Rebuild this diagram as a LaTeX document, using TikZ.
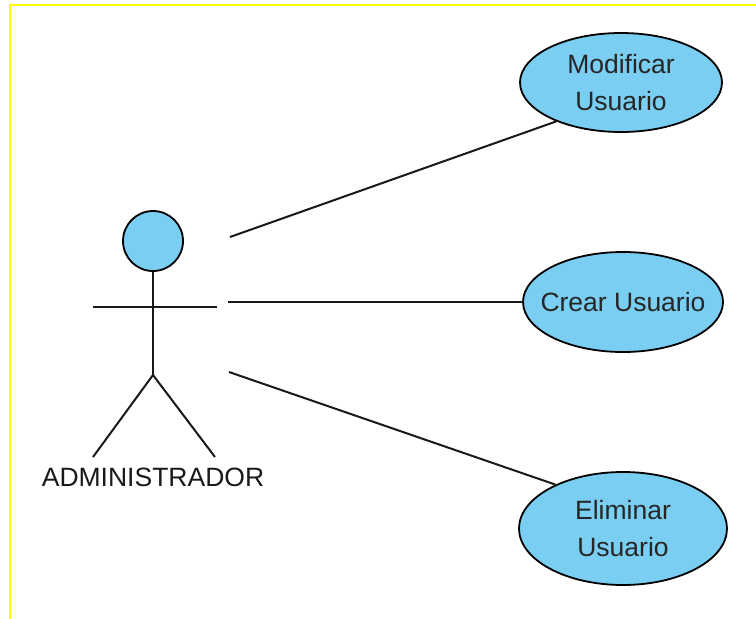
\documentclass[tikz,border=0pt]{standalone}
\usepackage{fontspec}
\setmainfont{Liberation Sans}
\usetikzlibrary{shapes.geometric}
\definecolor{ucfill}{RGB}{122,206,242}
\definecolor{frameyellow}{RGB}{255,255,0}
\tikzset{
  usecase/.style={ellipse, draw=black, line width=1.8pt, fill=ucfill, inner sep=0pt, align=center, font=\fontsize{26.5}{36.5}\selectfont, text=black!85},
  link/.style={draw=black!90, line width=2pt},
  actorline/.style={draw=black!90, line width=2pt},
}
\begin{document}
\begin{tikzpicture}[x=1pt,y=-1pt]
\useasboundingbox (0,0) rectangle (756,619);
% yellow frame
\draw[frameyellow, line width=2.2pt] (10,619) -- (10,5) -- (756,5);
% actor
\node[circle, draw=black, line width=1.8pt, fill=ucfill, minimum size=60pt, inner sep=0pt] (head) at (153,241) {};
\coordinate (hip) at (153,375);
\coordinate (armL) at (93,307);
\coordinate (armR) at (217,307);
\coordinate (footL) at (93,457);
\coordinate (footR) at (215,457);
\draw[actorline] (head.south) -- (hip);
\draw[actorline] (armL) -- (armR);
\draw[actorline] (footL) -- (hip) -- (footR);
\node[font=\fontsize{26.5}{30}\selectfont, text=black!90] (actorlabel) at (153,477) {ADMINISTRADOR};
% use cases
\node[usecase, minimum width=202pt, minimum height=99pt] (mod) at (621,82.5) {Modificar\\Usuario};
\node[usecase, minimum width=200pt, minimum height=100pt, inner xsep=-16pt] (crear) at (623,302) {Crear Usuario};
\node[usecase, minimum width=208pt, minimum height=113pt] (elim) at (623,528.5) {Eliminar\\Usuario};
% connectors
\coordinate (s1) at (230,237);
\coordinate (s2) at (228,302);
\coordinate (s3) at (229,372);
\draw[link] (s1) -- (mod.211);
\draw[link] (s2) -- (crear.west);
\draw[link] (s3) -- (elim.147);
\end{tikzpicture}
\end{document}
